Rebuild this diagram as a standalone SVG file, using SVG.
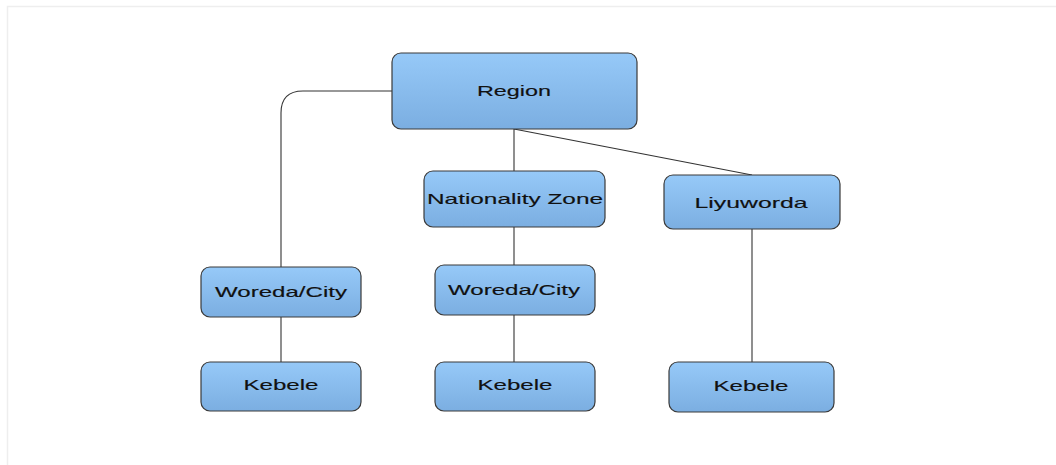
<svg xmlns="http://www.w3.org/2000/svg" width="1056" height="465" viewBox="0 0 1056 465">
<defs>
<linearGradient id="g" x1="0" y1="0" x2="0" y2="1">
<stop offset="0" stop-color="#96c9f8"/>
<stop offset="1" stop-color="#7baee1"/>
</linearGradient>
</defs>
<style>
.box{fill:url(#g);stroke:#3a3a3a;stroke-width:1.2}
.lbl{font-family:"Liberation Sans",Arial,sans-serif;font-size:15px;fill:#111111;text-anchor:middle;stroke:#111111;stroke-width:0.15}
.con{fill:none;stroke:#333;stroke-width:1.1}
</style>
<rect x="0" y="0" width="1056" height="465" fill="#ffffff"/>
<rect x="7.5" y="6.5" width="1060" height="470" fill="none" stroke="#eeeeee" stroke-width="1.5"/>
<g id="connectors">
<path class="con" d="M392,91 H303 Q281,91 281,113 V267"/>
<path class="con" d="M514,129 V171"/>
<path class="con" d="M514,129 L752,175"/>
<path class="con" d="M514,227 V265"/>
<path class="con" d="M514,315 V362"/>
<path class="con" d="M281,317 V362"/>
<path class="con" d="M752,229 V362"/>
</g>
<g id="region">
<rect class="box" x="392" y="53" width="245" height="76" rx="9"/>
<text class="lbl" x="514" y="96" textLength="74" lengthAdjust="spacingAndGlyphs">Region</text>
</g>
<g id="nationality-zone">
<rect class="box" x="424" y="171" width="181" height="56" rx="9"/>
<text class="lbl" x="515" y="204" textLength="176" lengthAdjust="spacingAndGlyphs">Nationality Zone</text>
</g>
<g id="liyuworda">
<rect class="box" x="664" y="175" width="176" height="54" rx="9"/>
<text class="lbl" x="751" y="208" textLength="113" lengthAdjust="spacingAndGlyphs">Liyuworda</text>
</g>
<g id="woreda-left">
<rect class="box" x="201" y="267" width="160" height="50" rx="9"/>
<text class="lbl" x="281" y="297" textLength="132" lengthAdjust="spacingAndGlyphs">Woreda/City</text>
</g>
<g id="woreda-mid">
<rect class="box" x="435" y="265" width="160" height="50" rx="9"/>
<text class="lbl" x="514" y="295" textLength="132" lengthAdjust="spacingAndGlyphs">Woreda/City</text>
</g>
<g id="kebele-left">
<rect class="box" x="201" y="362" width="160" height="49" rx="9"/>
<text class="lbl" x="281" y="390" textLength="75" lengthAdjust="spacingAndGlyphs">Kebele</text>
</g>
<g id="kebele-mid">
<rect class="box" x="435" y="362" width="160" height="49" rx="9"/>
<text class="lbl" x="515" y="390" textLength="75" lengthAdjust="spacingAndGlyphs">Kebele</text>
</g>
<g id="kebele-right">
<rect class="box" x="669" y="362" width="165" height="50" rx="9"/>
<text class="lbl" x="751" y="391" textLength="75" lengthAdjust="spacingAndGlyphs">Kebele</text>
</g>
</svg>
